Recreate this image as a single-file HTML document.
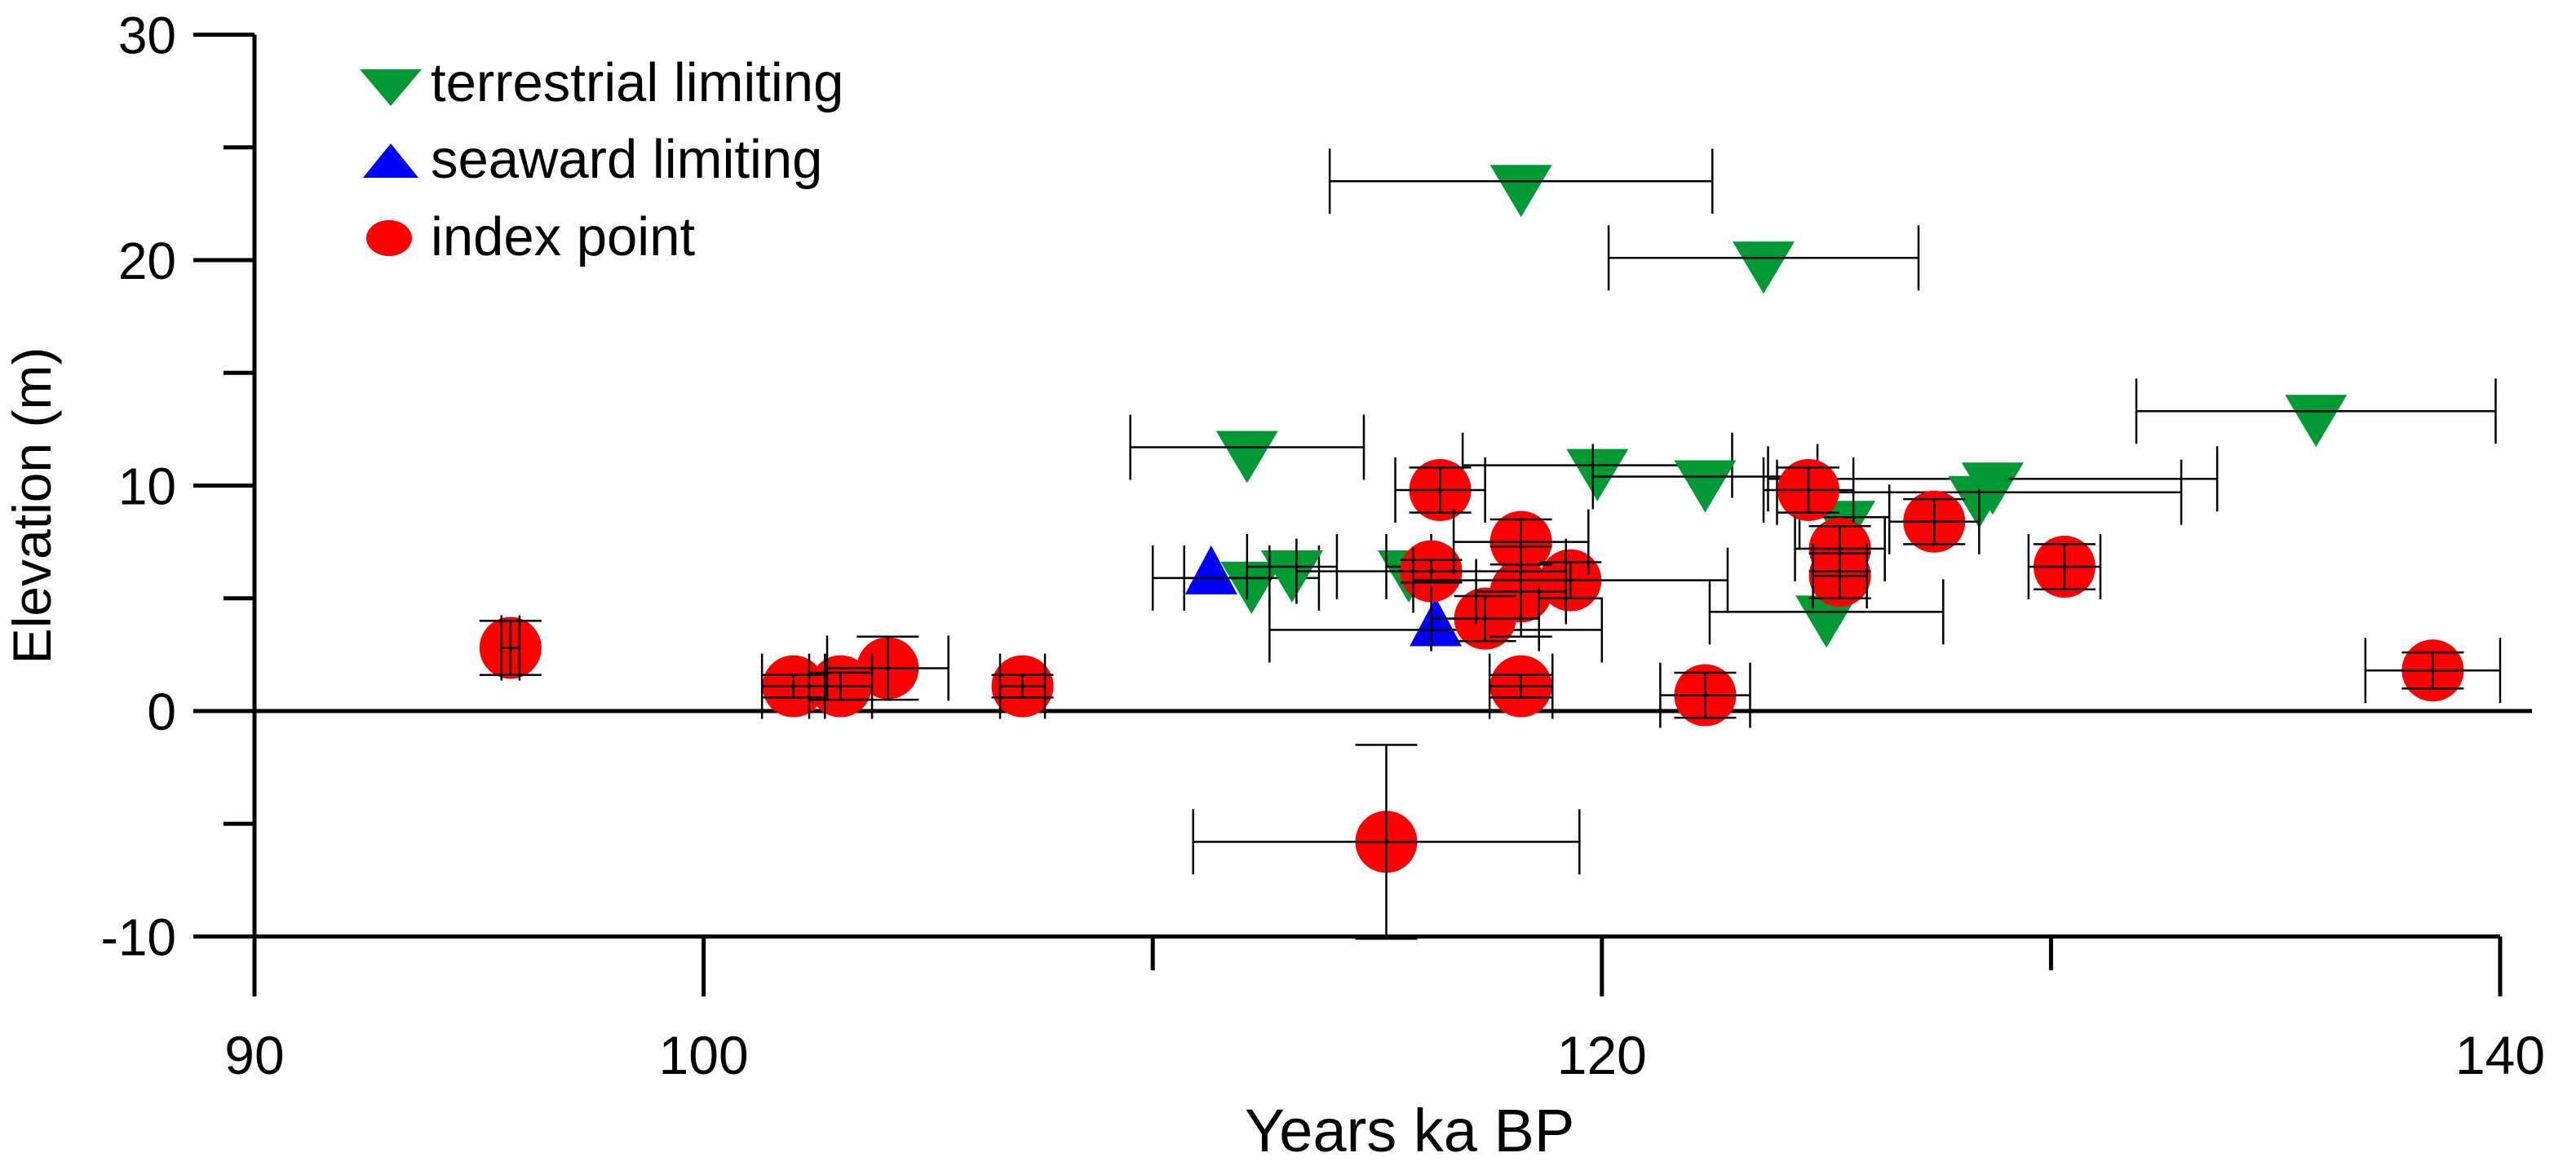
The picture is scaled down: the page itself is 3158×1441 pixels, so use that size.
<!DOCTYPE html>
<html><head><meta charset="utf-8"><style>
html,body{margin:0;padding:0;background:#fff;}
svg{display:block;font-family:"Liberation Sans",Arial,sans-serif;}
</style></head><body>
<svg id="chart" width="3158" height="1441" viewBox="0 0 3158 1441" xmlns="http://www.w3.org/2000/svg">
<g id="axes"></g>
<g id="marks"></g>
<g id="legend">
  <polygon points="441,85 517,85 479,130" fill="#009933"/>
  <text x="528" y="124" font-size="67">terrestrial limiting</text>
  <polygon points="445,218 513,218 479,176" fill="#0000ff"/>
  <text x="528" y="218" font-size="67">seaward limiting</text>
  <ellipse cx="477" cy="292" rx="28" ry="22" fill="#ff0000"/>
  <text x="528" y="313" font-size="67">index point</text>
</g>
<text transform="translate(62,620) rotate(-90)" text-anchor="middle" font-size="66">Elevation (m)</text>
<text x="1728" y="1412" text-anchor="middle" font-size="74">Years ka BP</text>
</svg>
<script>
// Terrestrial limiting: age, elevation, age error
const terrAge = [118.2, 123.6, 135.9, 112.1, 119.9, 122.3, 128.7, 128.4, 125.4, 125.0, 112.2, 113.1, 115.7];
const terrElev = [23.5, 20.1, 13.3, 11.7, 10.9, 10.4, 10.3, 9.7, 8.6, 4.4, 5.9, 6.4, 6.4];
const terrAgeErr = [4.26, 3.45, 4.0, 2.6, 3.0, 2.5, 5.0, 4.5, 1.0, 2.6, 1.5, 1.0, 0.5];
// Seaward limiting
const seaAge = [111.3, 116.3];
const seaElev = [5.9, 3.6];
const seaAgeErr = [1.3, 3.7];
// Index points
const idxAge = [95.7, 102.0, 103.05, 104.1, 107.1, 115.2, 116.4, 116.2, 118.2, 117.4, 118.2, 119.3, 118.2, 122.3, 124.6, 125.3, 125.3, 127.4, 130.3, 138.5];
const idxElev = [2.8, 1.1, 1.1, 1.9, 1.1, -5.8, 9.8, 6.2, 7.5, 4.1, 1.1, 5.8, 5.3, 0.7, 9.8, 7.2, 6.0, 8.4, 6.4, 1.8];
const idxAgeErr = [0.2, 0.7, 0.7, 1.35, 0.5, 4.3, 1.0, 3.0, 1.5, 1.2, 0.7, 3.5, 1.0, 1.0, 1.0, 1.0, 0.6, 1.0, 0.8, 1.5];
const idxElevErr = [1.2, 0.5, 0.6, 1.4, 0.5, 4.3, 1.0, 0.5, 1.0, 1.0, 0.5, 0.8, 2.0, 1.0, 1.0, 1.0, 1.0, 1.0, 1.0, 0.8];
const xTicks = [90, 100, 110, 120, 130, 140];
const xTickLabels = ["90", "100", "", "120", "", "140"];
const yTicks = [30, 25, 20, 15, 10, 5, 0, -5, -10];
const yTickLabels = ["30", "", "20", "", "10", "", "0", "", "-10"];

const NS = "http://www.w3.org/2000/svg";
function X(v){ return 312 + (v - 90) * 55.06; }
function Y(v){ return 872 - v * 27.65; }
function mk(parent, tag, attrs){
  const e = document.createElementNS(NS, tag);
  for (const k in attrs) e.setAttribute(k, attrs[k]);
  parent.appendChild(e);
  return e;
}
const axes = document.getElementById('axes');
const marks = document.getElementById('marks');

let l = mk(axes, 'line', {x1:312, y1:Y(30), x2:312, y2:1222, stroke:'#000', 'stroke-width':5});


l = mk(axes, 'line', {x1:312, y1:Y(-10), x2:X(140), y2:Y(-10), stroke:'#000', 'stroke-width':5});


l = mk(axes, 'line', {x1:237, y1:Y(0), x2:3104, y2:Y(0), stroke:'#000', 'stroke-width':5});



yTicks.forEach((v, i) => {
  const major = yTickLabels[i] !== "";
  const t = mk(axes, 'line', {x1: major ? 237 : 274, y1:Y(v), x2:312, y2:Y(v), stroke:'#000', 'stroke-width':5});
  
  
  if (major) {
    const tx = mk(axes, 'text', {x:216, y:Y(v) + 23, 'text-anchor':'end', 'font-size':64});
    tx.textContent = yTickLabels[i];
    
    
  }
});
xTicks.forEach((v, i) => {
  const major = xTickLabels[i] !== "";
  const t = mk(axes, 'line', {x1:X(v), y1:Y(-10), x2:X(v), y2: major ? 1222 : 1190, stroke:'#000', 'stroke-width':5});
  
  
  if (major) {
    const tx = mk(axes, 'text', {x:X(v), y:1317, 'text-anchor':'middle', 'font-size':66});
    tx.textContent = xTickLabels[i];
    
    
  }
});

function hbar(a, e, err){
  const g = mk(marks, 'g', {stroke:'#000', 'stroke-width':2.5});
  
  
  mk(g, 'line', {x1:X(a-err), y1:Y(e), x2:X(a+err), y2:Y(e)});
  mk(g, 'line', {x1:X(a-err), y1:Y(e)-40, x2:X(a-err), y2:Y(e)+40});
  mk(g, 'line', {x1:X(a+err), y1:Y(e)-40, x2:X(a+err), y2:Y(e)+40});
}
function vbar(a, e, err){
  const g = mk(marks, 'g', {stroke:'#000', 'stroke-width':2.5});
  
  
  mk(g, 'line', {x1:X(a), y1:Y(e+err), x2:X(a), y2:Y(e-err)});
  mk(g, 'line', {x1:X(a)-38, y1:Y(e+err), x2:X(a)+38, y2:Y(e+err)});
  mk(g, 'line', {x1:X(a)-38, y1:Y(e-err), x2:X(a)+38, y2:Y(e-err)});
}

terrAge.forEach((a, i) => {
  const x = X(a), y = Y(terrElev[i]);
  const p = mk(marks, 'polygon', {points:`${x-38},${y-20} ${x+38},${y-20} ${x},${y+44}`, fill:'#009933'});
  
  
  hbar(a, terrElev[i], terrAgeErr[i]);
});
seaAge.forEach((a, i) => {
  const x = X(a), y = Y(seaElev[i]);
  const p = mk(marks, 'polygon', {points:`${x-32},${y+20} ${x+32},${y+20} ${x},${y-40}`, fill:'#0000ff'});
  
  
  hbar(a, seaElev[i], seaAgeErr[i]);
});
idxAge.forEach((a, i) => {
  const c = mk(marks, 'ellipse', {cx:X(a), cy:Y(idxElev[i]), rx:38, ry:38, fill:'#ff0000'});
  
  
});
idxAge.forEach((a, i) => {
  hbar(a, idxElev[i], idxAgeErr[i]);
  vbar(a, idxElev[i], idxElevErr[i]);
});
</script>
</body></html>
